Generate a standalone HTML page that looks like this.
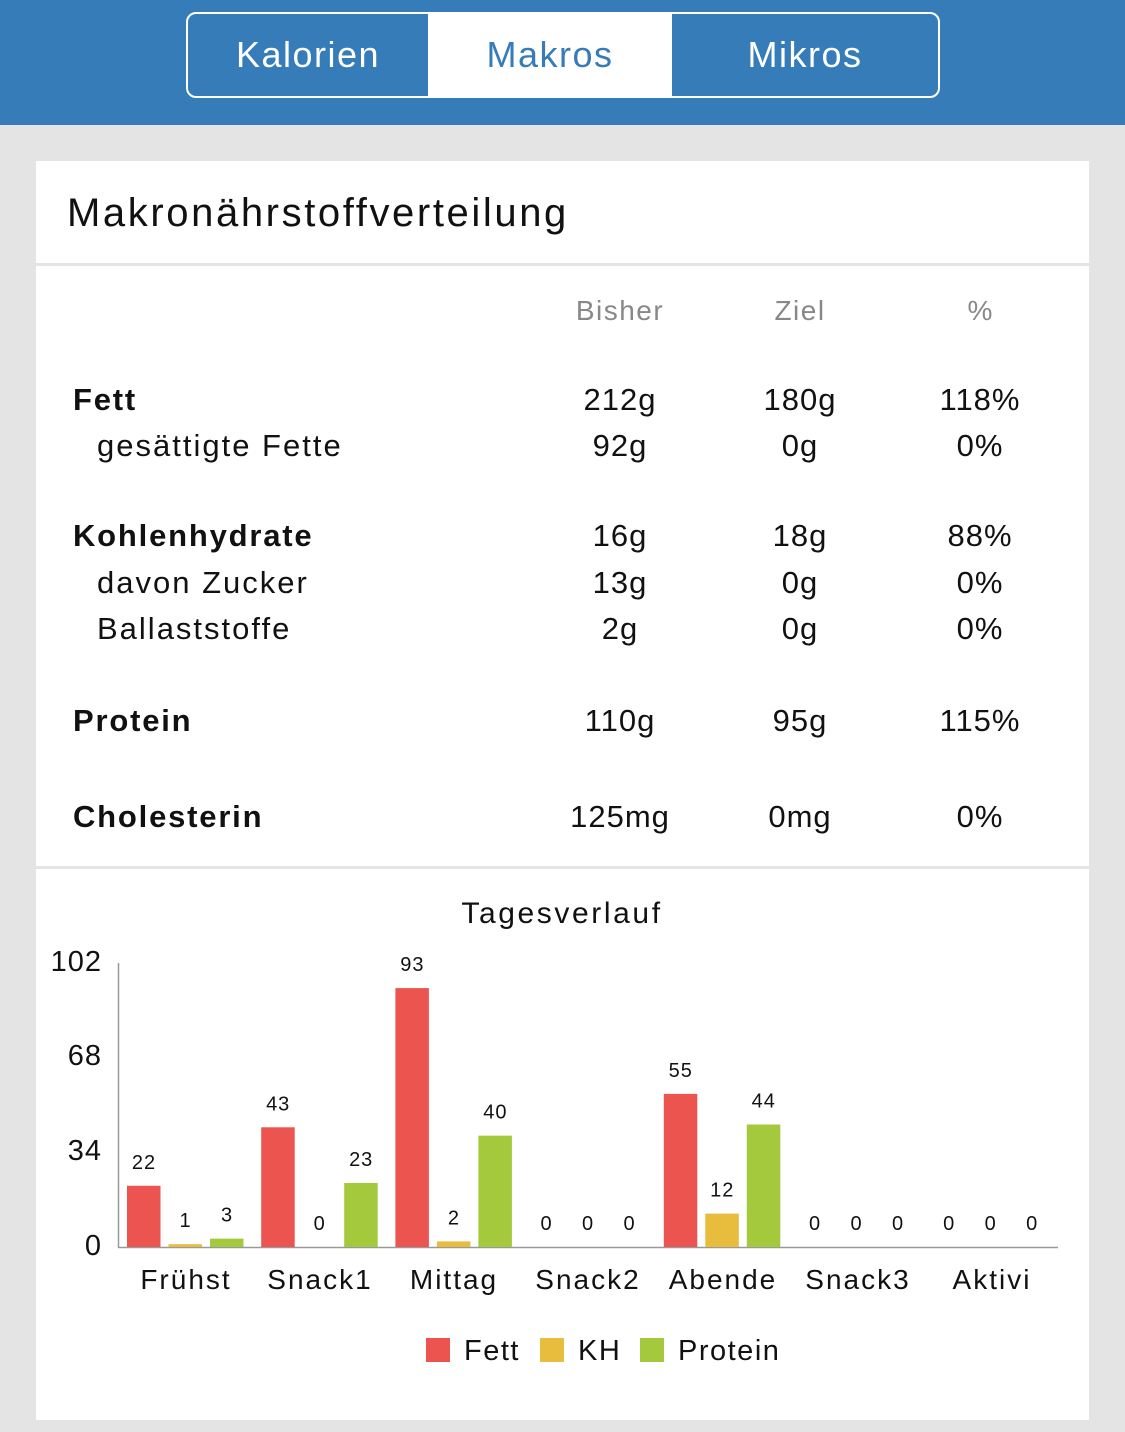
<!DOCTYPE html>
<html><head><meta charset="utf-8"><style>
body{margin:0;width:1125px;height:1432px;background:#e4e4e4;font-family:"Liberation Sans",sans-serif;position:relative;overflow:hidden}
.hdr{position:absolute;left:0;top:0;width:1125px;height:125px;background:#357cb8}
.seg{position:absolute;left:186px;top:12px;width:750px;height:82px;border:2px solid #fff;border-radius:10px;overflow:hidden;display:flex}
.seg div{height:82px;line-height:82px;text-align:center;color:#fff;font-size:36px;letter-spacing:1.5px}
.card{position:absolute;left:36px;top:161px;width:1053px;height:1259px;background:#fff}
.t{position:absolute;white-space:nowrap}
.hl{position:absolute;left:0;width:1053px;height:3px;background:#e4e4e4}
.r{font-size:31px;color:#111;letter-spacing:1px}
.b{font-weight:bold;letter-spacing:1.8px}
.s{letter-spacing:2px}
.c{position:absolute;width:200px;text-align:center}
</style></head><body>
<div class="hdr"><div class="seg">
<div style="width:240px">Kalorien</div>
<div style="width:244px;background:#fff;color:#357cb8">Makros</div>
<div style="width:266px">Mikros</div>
</div></div>
<div class="card">
<div class="t" style="left:31px;top:30px;font-size:40px;color:#111;letter-spacing:2.6px">Makronährstoffverteilung</div>
<div class="hl" style="top:102px"></div>
<div class="t c" style="left:484px;top:134px;font-size:28px;color:#888;letter-spacing:1.5px">Bisher</div>
<div class="t c" style="left:664px;top:134px;font-size:28px;color:#888;letter-spacing:1.5px">Ziel</div>
<div class="t c" style="left:844px;top:134px;font-size:28px;color:#888">%</div>
<div class="r">
<div class="t b" style="left:37px;top:221px">Fett</div><div class="t c" style="left:484px;top:221px">212g</div><div class="t c" style="left:664px;top:221px">180g</div><div class="t c" style="left:844px;top:221px">118%</div>
<div class="t s" style="left:61px;top:267px">gesättigte Fette</div><div class="t c" style="left:484px;top:267px">92g</div><div class="t c" style="left:664px;top:267px">0g</div><div class="t c" style="left:844px;top:267px">0%</div>
<div class="t b" style="left:37px;top:357px">Kohlenhydrate</div><div class="t c" style="left:484px;top:357px">16g</div><div class="t c" style="left:664px;top:357px">18g</div><div class="t c" style="left:844px;top:357px">88%</div>
<div class="t s" style="left:61px;top:404px">davon Zucker</div><div class="t c" style="left:484px;top:404px">13g</div><div class="t c" style="left:664px;top:404px">0g</div><div class="t c" style="left:844px;top:404px">0%</div>
<div class="t s" style="left:61px;top:450px">Ballaststoffe</div><div class="t c" style="left:484px;top:450px">2g</div><div class="t c" style="left:664px;top:450px">0g</div><div class="t c" style="left:844px;top:450px">0%</div>
<div class="t b" style="left:37px;top:542px">Protein</div><div class="t c" style="left:484px;top:542px">110g</div><div class="t c" style="left:664px;top:542px">95g</div><div class="t c" style="left:844px;top:542px">115%</div>
<div class="t b" style="left:37px;top:638px">Cholesterin</div><div class="t c" style="left:484px;top:638px">125mg</div><div class="t c" style="left:664px;top:638px">0mg</div><div class="t c" style="left:844px;top:638px">0%</div>
</div>
<div class="hl" style="top:705px"></div>
</div>
<svg style="position:absolute;left:0;top:0" width="1125" height="1432" font-family="Liberation Sans, sans-serif">
<text x="562" y="923" font-size="30" text-anchor="middle" fill="#111" letter-spacing="2.6">Tagesverlauf</text>
<g font-size="29" fill="#111" text-anchor="end" letter-spacing="1">
<text x="102" y="971">102</text><text x="102" y="1065">68</text><text x="102" y="1160">34</text><text x="102" y="1255">0</text>
</g>
<line x1="118.5" y1="963" x2="118.5" y2="1248" stroke="#999" stroke-width="1.5"/>
<line x1="118" y1="1247.5" x2="1058" y2="1247.5" stroke="#999" stroke-width="1.5"/>
<g id="bars"></g>
<g font-size="28" fill="#111" text-anchor="middle" letter-spacing="2">
<text x="186" y="1289">Frühst</text><text x="320" y="1289">Snack1</text><text x="454" y="1289">Mittag</text><text x="588" y="1289">Snack2</text><text x="723" y="1289">Abende</text><text x="858" y="1289">Snack3</text><text x="992" y="1289">Aktivi</text>
</g>
<g font-size="29" fill="#111" letter-spacing="1.5">
<rect x="426" y="1338" width="24" height="24" fill="#ec5450"/><text x="464" y="1360">Fett</text>
<rect x="540" y="1338" width="24" height="24" fill="#e8bc3c"/><text x="578" y="1360">KH</text>
<rect x="640" y="1338" width="24" height="24" fill="#a5c93d"/><text x="678" y="1360">Protein</text>
</g>
</svg>
<script>
var d=[[22,1,3],[43,0,23],[93,2,40],[0,0,0],[55,12,44],[0,0,0],[0,0,0]];
var col=["#ec5450","#e8bc3c","#a5c93d"],s="";
for(var i=0;i<7;i++)for(var j=0;j<3;j++){var v=d[i][j],x=127+134.2*i+41.5*j,h=v*2.784;if(v>0&&h<2)h=2;var y=1247-h;
if(v>0)s+='<rect x="'+x+'" y="'+y+'" width="33.5" height="'+h+'" fill="'+col[j]+'"/>';
s+='<text x="'+(x+17)+'" y="'+(y-17)+'" font-size="20" text-anchor="middle" fill="#111" letter-spacing="1">'+v+'</text>';}
document.getElementById("bars").innerHTML=s;
</script>
</body></html>
